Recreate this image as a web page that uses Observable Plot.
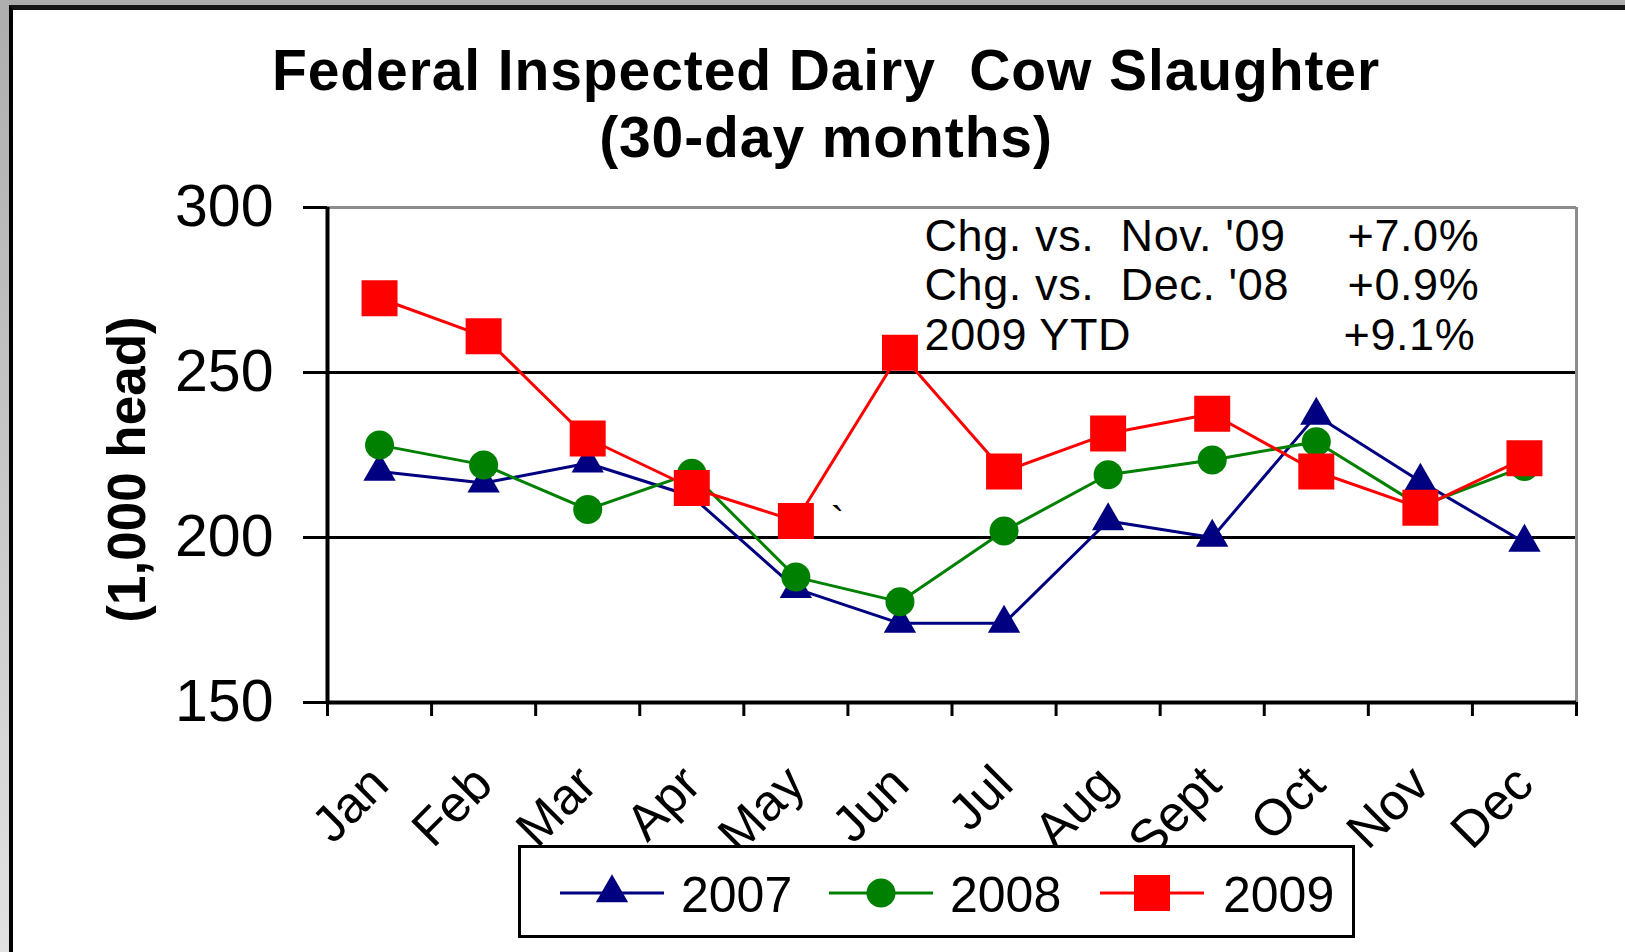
<!DOCTYPE html>
<html>
<head>
<meta charset="utf-8">
<script src="https://cdn.jsdelivr.net/npm/d3@7"></script>
<script src="https://cdn.jsdelivr.net/npm/@observablehq/plot@0.6"></script>
<style>
  html, body { margin: 0; padding: 0; }
  body { font-family: "Liberation Sans", Arial, sans-serif; }
  #page { position: relative; width: 1625px; height: 952px; overflow: hidden;
          background: linear-gradient(#adadad, #e2e2e2); }
  #panel { position: absolute; left: 9px; top: 5px; width: 1700px; height: 1000px;
           background: #fff; border-left: 4px solid #000; border-top: 5px solid #151515; box-sizing: border-box; }
  #title { position: absolute; left: 0; top: 37px; width: 1652px; text-align: center;
           font: 700 57px/66.5px "Liberation Sans", Arial, sans-serif; letter-spacing: 0.9px;
           white-space: pre; color: #000; }
  #chart { position: absolute; left: 0; top: 175px; }
  #chart svg { overflow: visible; }
  #chart svg text { white-space: pre; }
  #chart svg .anno text { letter-spacing: 0.6px; }
  #legend { position: absolute; left: 518px; top: 845px; width: 837px; height: 93px;
            border: 3px solid #000; box-sizing: border-box; background: #fff; }
  .lg-sw { position: absolute; top: 25px; }
  .lg-tx { position: absolute; top: 22px; font: 400 50px/50px "Liberation Sans", Arial, sans-serif; color: #000; }
</style>
</head>
<body>
<div id="page">
  <div id="panel"></div>
  <div id="title"></div>
  <div id="chart"></div>
  <div id="legend"></div>
</div>
<script>
// ---- data ----
const months = ["Jan", "Feb", "Mar", "Apr", "May", "Jun", "Jul", "Aug", "Sept", "Oct", "Nov", "Dec"];
const years = ["2007", "2008", "2009"];
const v2007 = [220, 216.5, 222.5, 212.5, 184.5, 174, 174, 205, 200, 237, 217, 198.5];
const v2008 = [228, 222, 208.5, 219.5, 188, 180.5, 202, 219, 223.5, 229, 209.5, 221.5];
const v2009 = [272.5, 261, 230, 215, 205, 256, 220, 231.5, 237.5, 220, 209, 224];
const yTicks = [150, 200, 250, 300];
const gridValues = [200, 250];
const titleLines = ["Federal Inspected Dairy  Cow Slaughter", "(30-day months)"];
const yTitle = "(1,000 head)";
const annoLabels = ["Chg. vs.  Nov. '09", "Chg. vs.  Dec. '08", "2009 YTD"];
const annoValues = ["+7.0%", "+0.9%", "+9.1%"];
const strayMark = "`";

// ---- styles ----
const seriesStyle = {
  "2007": {color: "#000080", symbol: "triangle", r: 12},
  "2008": {color: "#008000", symbol: "circle", r: 14.5},
  "2009": {color: "#ff0000", symbol: "square", r: 20.3}
};
const valuesByYear = {"2007": v2007, "2008": v2008, "2009": v2009};

document.getElementById("title").textContent = titleLines.join("\n");

const rows = years.flatMap(year => valuesByYear[year].map((value, i) => ({year, i, month: months[i], value})));

const marks = [
  Plot.ruleY(gridValues, {stroke: "#000", strokeWidth: 3}),
  Plot.ruleY([yTicks[yTicks.length - 1]], {stroke: "#8c8c8c", strokeWidth: 3}),
  Plot.ruleX([months.length], {y1: yTicks[0], y2: yTicks[yTicks.length - 1], stroke: "#8c8c8c", strokeWidth: 3}),
  Plot.ruleY([yTicks[0]], {stroke: "#000", strokeWidth: 4}),
  Plot.ruleX([0], {y1: yTicks[0], y2: yTicks[yTicks.length - 1], stroke: "#000", strokeWidth: 4}),
  Plot.axisY({ticks: yTicks, tickSize: 24, tickPadding: 30, fontSize: 59, strokeWidth: 3, label: null}),
  Plot.axisX({ticks: d3.range(months.length + 1), tickFormat: () => "", tickSize: 14, strokeWidth: 3, label: null}),
  Plot.axisX({ticks: months.map((_, i) => i + 0.5), tickFormat: v => months[Math.floor(v)], tickSize: 0,
              tickRotate: -45, tickPadding: 73, fontSize: 51, label: null}),
  Plot.text([yTitle], {text: d => d, frameAnchor: "left", textAnchor: "middle", rotate: -90, dx: -199, dy: 14.5,
                       fontSize: 53, fontWeight: "bold", fill: "#000"})
];

for (const year of years) {
  const st = seriesStyle[year];
  const data = rows.filter(d => d.year === year);
  marks.push(Plot.line(data, {x: d => d.i + 0.5, y: "value", stroke: st.color, strokeWidth: 3}));
  marks.push(Plot.dot(data, {x: d => d.i + 0.5, y: "value", symbol: st.symbol, r: st.r, fill: st.color, stroke: "none"}));
}

annoLabels.forEach((label, k) => {
  marks.push(Plot.text([label], {text: d => d, frameAnchor: "top-left", textAnchor: "start", lineAnchor: "bottom",
                                  dx: 597, dy: 43 + k * 49.5, fontSize: 45, fill: "#000", className: "anno"}));
  marks.push(Plot.text([annoValues[k]], {text: d => d, frameAnchor: "top-left", textAnchor: "start", lineAnchor: "bottom",
                                  dx: k === 2 ? 1016 : 1020, dy: 43 + k * 49.5, fontSize: 45, fill: "#000", className: "anno"}));
});
marks.push(Plot.text([strayMark], {text: d => d, frameAnchor: "top-left", textAnchor: "middle", lineAnchor: "bottom",
                                   dx: 510, dy: 327, fontSize: 40, fill: "#000"}));

const chart = Plot.plot({
  width: 1625,
  height: 670,
  marginTop: 32,
  marginBottom: 143,
  marginLeft: 327,
  marginRight: 49,
  style: {fontFamily: "'Liberation Sans', Arial, sans-serif", color: "#000", background: "transparent", overflow: "visible"},
  x: {type: "linear", domain: [0, months.length]},
  y: {domain: [yTicks[0], yTicks[yTicks.length - 1]]},
  marks
});
document.getElementById("chart").appendChild(chart);

// ---- legend ----
const legend = document.getElementById("legend");
const legendLayout = {"2007": {sw: 39, tx: 160}, "2008": {sw: 308, tx: 429}, "2009": {sw: 579, tx: 702}};
const ns = "http://www.w3.org/2000/svg";
for (const year of years) {
  const st = seriesStyle[year];
  const lay = legendLayout[year];
  const svg = document.createElementNS(ns, "svg");
  svg.setAttribute("width", 104); svg.setAttribute("height", 40);
  svg.setAttribute("class", "lg-sw");
  svg.style.left = lay.sw + "px";
  const line = document.createElementNS(ns, "line");
  line.setAttribute("x1", 0); line.setAttribute("x2", 104); line.setAttribute("y1", 20); line.setAttribute("y2", 20);
  line.setAttribute("stroke", st.color); line.setAttribute("stroke-width", 3);
  svg.appendChild(line);
  const sym = {triangle: d3.symbolTriangle, circle: d3.symbolCircle, square: d3.symbolSquare}[st.symbol];
  const path = document.createElementNS(ns, "path");
  path.setAttribute("d", d3.symbol(sym, st.r * st.r * Math.PI)());
  path.setAttribute("transform", "translate(52,20)");
  path.setAttribute("fill", st.color);
  svg.appendChild(path);
  legend.appendChild(svg);
  const tx = document.createElement("div");
  tx.className = "lg-tx";
  tx.style.left = lay.tx + "px";
  tx.textContent = year;
  legend.appendChild(tx);
}
</script>
</body>
</html>
